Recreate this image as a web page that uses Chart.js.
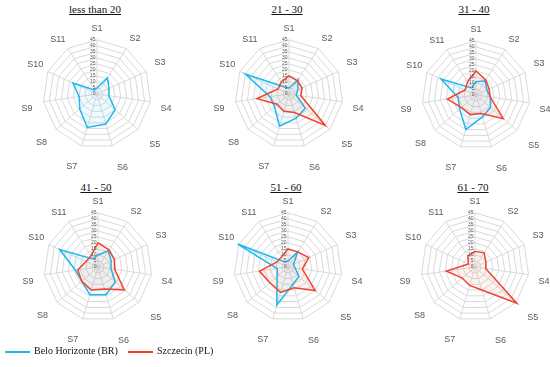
<!DOCTYPE html>
<html>
<head>
<meta charset="utf-8">
<script src="https://cdn.jsdelivr.net/npm/chart.js@4.4.0/dist/chart.umd.min.js"></script>
<style>
  body { margin: 0; width: 550px; height: 367px; background: #fff; position: relative; overflow: hidden; }
  .title { position: absolute; width: 120px; text-align: center; font: 11px "Liberation Serif", serif; text-decoration: underline; color: #111; }
  .box { position: absolute; width: 185px; height: 157px; }
  .legend { position: absolute; top: 345px; font: 10px "Liberation Serif", serif; color: #111; white-space: nowrap; }
  .legend i { display: inline-block; width: 25px; height: 2px; vertical-align: middle; margin-right: 4px; }
</style>
</head>
<body>
<div id="wrap"></div>
<div class="legend" style="left:5px"><i style="background:#1CB8EE"></i>Belo Horizonte (BR)</div>
<div class="legend" style="left:128px"><i style="background:#F2422F"></i>Szczecin (PL)</div>
<script>
const categories = ["S1", "S2", "S3", "S4", "S5", "S6", "S7", "S8", "S9", "S10", "S11"];
const groups = ["less than 20", "21 - 30", "31 - 40", "41 - 50", "51 - 60", "61 - 70"];
const tickValues = [0, 5, 10, 15, 20, 25, 30, 35, 40, 45];

// Belo Horizonte (BR)
const bhLess20 = [5, 16, 11, 10, 20, 26, 29, 19, 15, 22, 4];
const bh21_30 = [5, 14, 8, 6, 18, 21, 28, 16, 16, 40, 7];
const bh31_40 = [11, 14, 10, 12, 16, 19, 30, 18, 15, 32, 7];
const bh41_50 = [10, 16, 12, 11, 19, 24, 24, 18, 19, 35, 8];
const bh51_60 = [5, 15, 5, 6, 12, 15, 33, 12, 9, 46, 5];
const bh61_70 = null;

// Szczecin (PL)
const szLess20 = null;
const sz21_30 = [15, 13, 12, 10, 40, 16, 15, 13, 27, 10, 12];
const sz31_40 = [20, 15, 12, 12, 30, 16, 17, 16, 24, 10, 13];
const sz41_50 = [20, 17, 15, 14, 29, 19, 20, 18, 17, 11, 11];
const sz51_60 = [15, 15, 19, 12, 30, 18, 22, 20, 24, 10, 10];
const sz61_70 = [13, 14, 10, 9, 46, 20, 16, 14, 24, 6, 11];

const bhSeries = [bhLess20, bh21_30, bh31_40, bh41_50, bh51_60, bh61_70];
const szSeries = [szLess20, sz21_30, sz31_40, sz41_50, sz51_60, sz61_70];

const centers = [[95, 92], [287, 92], [474, 93], [96, 265], [286, 265], [473, 265]];
const titleTops = [3, 3, 3, 181, 181, 181];
const labelPad = [6, 6, 9, 10, 15, 17, 16, 12, 11, 5, 4];

// small axis numbers just left of the S1 spoke
const tickLabels = {
  id: "tickLabels",
  afterDraw(chart) {
    const s = chart.scales.r;
    const ctx = chart.ctx;
    ctx.save();
    ctx.font = "5px 'Liberation Sans', Arial, sans-serif";
    ctx.fillStyle = "#595959";
    ctx.textAlign = "right";
    ctx.textBaseline = "middle";
    tickValues.forEach(v => {
      ctx.fillText(String(v), s.xCenter - 1.5, s.yCenter - s.getDistanceFromCenterForValue(v));
    });
    ctx.restore();
  }
};

const wrap = document.getElementById("wrap");

groups.forEach((g, i) => {
  const [cx, cy] = centers[i];

  const t = document.createElement("div");
  t.className = "title";
  t.textContent = g;
  t.style.left = (cx - 60) + "px";
  t.style.top = titleTops[i] + "px";
  wrap.appendChild(t);

  const box = document.createElement("div");
  box.className = "box";
  box.style.left = (cx - 91) + "px";
  box.style.top = (cy - 72) + "px";
  const cv = document.createElement("canvas");
  box.appendChild(cv);
  wrap.appendChild(box);

  const datasets = [];
  if (szSeries[i]) {
    datasets.push({
      label: "Szczecin (PL)",
      data: szSeries[i],
      borderColor: "#F2422F",
      backgroundColor: "rgba(242, 66, 47, 0.07)",
      fill: true,
      borderWidth: 1.5,
      pointRadius: 0,
    });
  }
  if (bhSeries[i]) {
    datasets.push({
      label: "Belo Horizonte (BR)",
      data: bhSeries[i],
      borderColor: "#1CB8EE",
      backgroundColor: "rgba(28, 184, 238, 0.07)",
      fill: true,
      borderWidth: 1.5,
      pointRadius: 0,
    });
  }

  new Chart(cv, {
    type: "radar",
    data: { labels: categories, datasets: datasets },
    options: {
      responsive: true,
      maintainAspectRatio: false,
      animation: false,
      plugins: { legend: { display: false }, tooltip: { enabled: false } },
      scales: {
        r: {
          min: 0,
          max: 45,
          ticks: { stepSize: 5, display: false },
          grid: { color: "#D9D9D9", lineWidth: 1 },
          angleLines: { color: "#D9D9D9", lineWidth: 1 },
          pointLabels: {
            color: "#595959",
            font: { family: "'Liberation Sans', Arial, sans-serif", size: 9 },
            padding: ctx => labelPad[ctx.index],
          },
        },
      },
    },
    plugins: [tickLabels],
  });
});
</script>
</body>
</html>
